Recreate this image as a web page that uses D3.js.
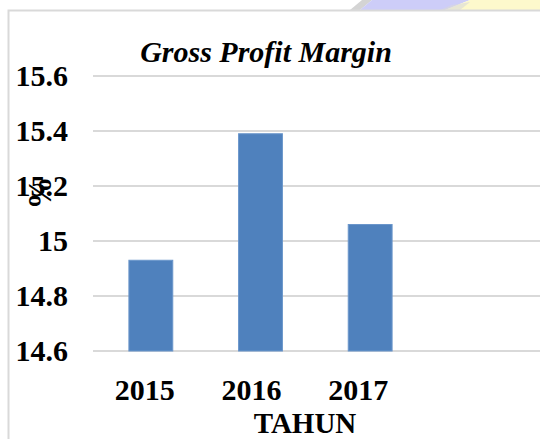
<!DOCTYPE html>
<html>
<head>
<meta charset="utf-8">
<script src="https://cdn.jsdelivr.net/npm/d3@7"></script>
<style>
  body { margin: 0; background: #fff; }
  svg text { font-family: "Liberation Serif", "Times New Roman", serif; font-weight: bold; fill: #000; }
</style>
</head>
<body>
<svg id="chart" width="540" height="439"></svg>
<script>
// data
const years = ["2015", "2016", "2017"];
const gpm = [14.93, 15.39, 15.06];
const yTicks = [14.6, 14.8, 15, 15.2, 15.4, 15.6];

const svg = d3.select("#chart");

// faint watermark fragment at the very top
svg.append("polygon").attr("points", "350,10 362,0 372,0 360,10").style("fill", "#d4d4d4");
svg.append("polygon").attr("points", "360,10 372,0 470,0 445,10").style("fill", "#cdcdf8");
svg.append("polygon").attr("points", "445,10 470,0 540,0 540,10").style("fill", "#fdf9cc");
svg.append("polygon").attr("points", "440,10 452,5 470,2 460,10").style("fill", "#d8d8d8").style("opacity", 0.6);

// chart frame
svg.append("rect")
  .attr("x", 8.5).attr("y", 10.5)
  .attr("width", 700).attr("height", 700)
  .style("fill", "#fff")
  .style("stroke", "#d9d9d9")
  .style("stroke-width", 2);

const yScale = d3.scaleLinear().domain([14.6, 15.6]).range([351, 76]);
const xScale = d3.scaleBand().domain(years).range([96, 425]).paddingInner(0.6).paddingOuter(0.3);

// gridlines
svg.selectAll("line.grid")
  .data(yTicks)
  .enter()
  .append("line")
  .attr("x1", 93)
  .attr("x2", 540)
  .attr("y1", function (d) { return yScale(d); })
  .attr("y2", function (d) { return yScale(d); })
  .style("stroke", "#d9d9d9")
  .style("stroke-width", 2);

// bars
svg.selectAll("rect.bar")
  .data(gpm)
  .enter()
  .append("rect")
  .attr("x", function (d, i) { return xScale(years[i]); })
  .attr("y", function (d) { return yScale(d); })
  .attr("width", xScale.bandwidth())
  .attr("height", function (d) { return yScale(14.6) - yScale(d); })
  .style("fill", "#4f81bd")
  .style("stroke", "#6b96cb")
  .style("stroke-width", 1);

// y tick labels
svg.selectAll("text.ytick")
  .data(yTicks)
  .enter()
  .append("text")
  .attr("x", 68)
  .attr("y", function (d) { return yScale(d) + 10; })
  .attr("text-anchor", "end")
  .style("font-size", "30px")
  .text(function (d) { return d; });

// x tick labels
svg.selectAll("text.xtick")
  .data(years)
  .enter()
  .append("text")
  .attr("x", function (d, i) { return xScale(d) + xScale.bandwidth() / 2 - 6 - i * 3; })
  .attr("y", 400)
  .attr("text-anchor", "middle")
  .style("font-size", "30px")
  .text(function (d) { return d; });

// title
svg.append("text")
  .attr("x", 266)
  .attr("y", 62)
  .attr("text-anchor", "middle")
  .style("font-size", "30px")
  .style("font-style", "italic")
  .text("Gross Profit Margin");

// axis titles
svg.append("text")
  .attr("x", 305)
  .attr("y", 433)
  .attr("text-anchor", "middle")
  .style("font-size", "29px")
  .text("TAHUN");

svg.append("text")
  .attr("transform", "translate(51,193) rotate(-90)")
  .attr("text-anchor", "middle")
  .style("font-size", "33px")
  .text("%");
</script>
</body>
</html>
